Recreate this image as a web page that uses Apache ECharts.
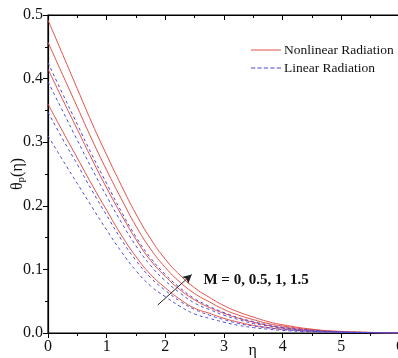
<!DOCTYPE html>
<html><head><meta charset="utf-8">
<script src="https://cdn.jsdelivr.net/npm/echarts@6/dist/echarts.min.js"></script>
<style>html,body{margin:0;padding:0;background:#fff}#c{width:398px;height:358px}</style>
</head><body><div id="c"></div>
<script>
// eta grid
const eta = [0,0.25,0.5,0.75,1,1.25,1.5,1.75,2,2.25,2.5,2.75,3,3.25,3.5,3.75,4,4.5,5,5.5,6];
// Nonlinear radiation (red, solid)
const nonlinear1 = [0.492,0.438,0.384,0.330,0.280,0.232,0.187,0.148,0.116,0.091,0.071,0.056,0.043,0.033,0.025,0.018,0.013,0.006,0.0025,0.001,0];
const nonlinear2 = [0.457,0.406,0.355,0.304,0.256,0.211,0.168,0.132,0.103,0.080,0.062,0.049,0.037,0.028,0.021,0.015,0.011,0.005,0.002,0.0008,0];
const nonlinear3 = [0.415,0.367,0.320,0.273,0.228,0.186,0.147,0.114,0.089,0.068,0.052,0.040,0.031,0.023,0.017,0.012,0.0085,0.004,0.0017,0.0007,0];
const nonlinear4 = [0.360,0.317,0.275,0.233,0.193,0.154,0.120,0.092,0.071,0.053,0.039,0.031,0.023,0.017,0.012,0.0086,0.006,0.0028,0.0012,0.0004,0];
// Linear radiation (blue, dashed)
const linear1 = [0.425,0.376,0.328,0.280,0.235,0.191,0.151,0.118,0.092,0.071,0.054,0.042,0.032,0.024,0.018,0.013,0.009,0.0043,0.0018,0.0007,0];
const linear2 = [0.395,0.349,0.303,0.258,0.215,0.174,0.137,0.106,0.082,0.063,0.047,0.037,0.028,0.021,0.015,0.011,0.0075,0.0036,0.0015,0.0006,0];
const linear3 = [0.347,0.305,0.265,0.224,0.185,0.147,0.114,0.087,0.067,0.050,0.037,0.028,0.021,0.015,0.011,0.008,0.0054,0.0025,0.0011,0.0004,0];
const linear4 = [0.310,0.272,0.235,0.198,0.162,0.128,0.098,0.074,0.057,0.042,0.030,0.023,0.017,0.012,0.0085,0.006,0.004,0.002,0.001,0.0003,0];
const xTicks = [0,1,2,3,4,5,6];
const yTicks = [0,0.1,0.2,0.3,0.4,0.5];
const arrowFrom = [1.87,0.044];
const arrowTo = [2.45,0.092];
const annotation = 'M = 0, 0.5, 1, 1.5';

const RED = '#e0504a', BLUE = '#4b4bd6';
const FONT = 'Liberation Serif';
const pair = arr => eta.map((e,i)=>[e,arr[i]]);
function mk(name, arr, color, type){
  return {name, type:'line', data:pair(arr), smooth:true, showSymbol:false, symbol:'none',
    lineStyle:{color, width:1, type}, itemStyle:{color}, silent:true, z:3};
}
const series = [
  mk('Nonlinear Radiation', nonlinear1, RED, 'solid'),
  mk('Nonlinear Radiation', nonlinear2, RED, 'solid'),
  mk('Nonlinear Radiation', nonlinear3, RED, 'solid'),
  mk('Nonlinear Radiation', nonlinear4, RED, 'solid'),
  mk('Linear Radiation', linear1, BLUE, [3,3]),
  mk('Linear Radiation', linear2, BLUE, [3,3]),
  mk('Linear Radiation', linear3, BLUE, [3,3]),
  mk('Linear Radiation', linear4, BLUE, [3,3]),
  {type:'line', data:[], silent:true, z:5,
   markLine:{silent:true, symbol:['none','arrow'], symbolSize:[7,9], label:{show:false},
     lineStyle:{color:'#222', width:1, type:'solid'},
     data:[[{coord:arrowFrom},{coord:arrowTo}]]}}
];
const chart = echarts.init(document.getElementById('c'));
const axisLine = {show:true, onZero:false, lineStyle:{color:'#000', width:1.2}};
chart.setOption({
  animation:false,
  backgroundColor:'#fff',
  grid:{left:48, right:-2, top:15, bottom:25, containLabel:false, outerBoundsMode:'none',
        show:true, borderColor:'#000', borderWidth:1.2, backgroundColor:'transparent'},
  legend:{orient:'vertical', left:246, top:38,
    itemWidth:30, itemHeight:10, itemGap:4, selectedMode:false,
    textStyle:{fontFamily:FONT, fontSize:13.5, color:'#111', padding:[0,0,0,-2]},
    data:[
      {name:'Nonlinear Radiation', icon:'path://M0,5L30,5L30,6L0,6Z', itemStyle:{color:RED}},
      {name:'Linear Radiation', icon:'path://M0,5L4,5L4,6L0,6ZM6,5L10,5L10,6L6,6ZM12,5L16,5L16,6L12,6ZM18,5L22,5L22,6L18,6ZM24,5L28,5L28,6L24,6Z', itemStyle:{color:BLUE}}
    ]},
  xAxis:[
    {type:'value', min:0, max:6, interval:1, position:'bottom', axisLine,
     axisTick:{show:true, inside:false, length:5, lineStyle:{color:'#000'}},
     minorTick:{show:true, splitNumber:2, length:3, lineStyle:{color:'#000'}},
     splitLine:{show:false},
     axisLabel:{fontFamily:FONT, fontSize:16, color:'#111', margin:6,
       formatter:v=>xTicks.includes(v)?String(v):''}},
    {type:'value', min:0, max:6, interval:1, position:'top', axisLine,
     axisTick:{show:true, inside:true, length:5, lineStyle:{color:'#000'}},
     minorTick:{show:true, splitNumber:2, length:3, lineStyle:{color:'#000'}},
     splitLine:{show:false}, axisLabel:{show:false}}
  ],
  yAxis:{type:'value', min:0, max:0.5, interval:0.1, axisLine,
    axisTick:{show:true, inside:false, length:5, lineStyle:{color:'#000'}},
    minorTick:{show:true, splitNumber:2, length:3, lineStyle:{color:'#000'}},
    splitLine:{show:false},
    axisLabel:{fontFamily:FONT, fontSize:16, color:'#111', margin:5,
      formatter:v=>yTicks.some(t=>Math.abs(t-v)<1e-9)?v.toFixed(1):''},
    name:'{a|θ}{s|p}{a|(η)}', nameLocation:'middle', nameRotate:90, nameGap:21, nameMoveOverlap:false,
    nameTextStyle:{rich:{a:{fontFamily:FONT, fontSize:16, color:'#111'}, s:{fontFamily:FONT, fontSize:11, color:'#111', padding:[8,0,0,0]}}}},
  series
});
const p = chart.convertToPixel({xAxisIndex:0, yAxisIndex:0}, [3.49, 0]);
const q = chart.convertToPixel({xAxisIndex:0, yAxisIndex:0}, [2.65, 0.083]);
chart.setOption({
  graphic:[
    {type:'text', x:p[0], y:p[1]+10, style:{text:'η', font:'16px "Liberation Serif"', fill:'#111', align:'center', verticalAlign:'top'}},
    {type:'text', x:q[0], y:q[1], style:{text:annotation, font:'bold 15px "Liberation Serif"', fill:'#111', align:'left', verticalAlign:'middle'}}
  ]
});
</script></body></html>
